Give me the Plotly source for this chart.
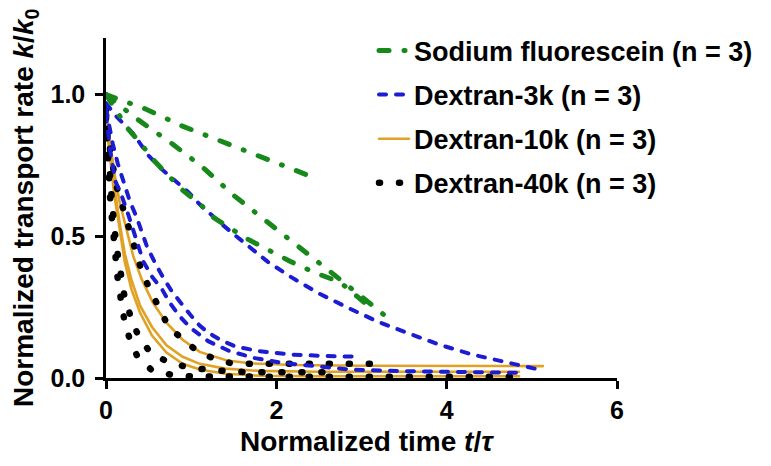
import plotly.graph_objects as go

# ---------------- data ----------------
# Sodium fluorescein (green, dash-dot)
sf1_x = [0, 0.46, 0.89, 1.34, 1.78, 2.22, 2.47]
sf1_y = [1.0, 0.95, 0.89, 0.837, 0.784, 0.73, 0.704]
sf2_x = [0, 0.36, 0.78, 1.13, 1.51, 1.89, 2.24, 2.63, 3.0, 3.38]
sf2_y = [1.0, 0.915, 0.826, 0.745, 0.642, 0.553, 0.472, 0.376, 0.287, 0.195]
sf3_x = [0, 0.26, 0.43, 0.58, 0.75, 0.91, 1.10, 1.26, 1.48, 1.67, 2.16, 2.45, 2.75, 2.92, 3.08]
sf3_y = [1.0, 0.879, 0.819, 0.762, 0.709, 0.66, 0.615, 0.567, 0.525, 0.489, 0.412, 0.372, 0.338, 0.294, 0.255]

# Dextran-3k (blue, dashed)
d3a_x = [0, 0.11, 0.32, 0.5, 0.65, 0.81, 0.97, 1.10, 1.2, 1.34, 1.49, 1.65, 1.9, 2.18, 2.49, 2.84, 3.19, 3.53, 3.92, 4.31, 4.74, 5.14]
d3a_y = [0.97, 0.927, 0.862, 0.785, 0.738, 0.696, 0.655, 0.613, 0.585, 0.548, 0.51, 0.47, 0.41, 0.355, 0.30, 0.248, 0.199, 0.16, 0.117, 0.082, 0.053, 0.026]
d3b_x = [0, 0.08, 0.14, 0.22, 0.28, 0.36, 0.42, 0.48, 0.575, 0.67, 0.775, 0.89, 0.99, 1.1, 1.2, 1.34, 1.53, 1.8, 2.16, 2.55, 2.97]
d3b_y = [0.95, 0.826, 0.755, 0.684, 0.624, 0.567, 0.518, 0.465, 0.407, 0.355, 0.305, 0.259, 0.223, 0.185, 0.16, 0.135, 0.11, 0.095, 0.083, 0.078, 0.075]
d3c_x = [0, 0.05, 0.11, 0.19, 0.26, 0.32, 0.36, 0.44, 0.54, 0.66, 0.75, 0.87, 1.0, 1.2, 1.45, 1.75, 2.08, 2.47, 2.86, 3.5, 4.2, 4.9]
d3c_y = [0.93, 0.80, 0.695, 0.638, 0.578, 0.518, 0.479, 0.41, 0.358, 0.312, 0.265, 0.216, 0.175, 0.13, 0.095, 0.07, 0.053, 0.04, 0.03, 0.024, 0.02, 0.018]

# Dextran-10k (orange, solid)
d10a_x = [0, 0.05, 0.1, 0.16, 0.24, 0.32, 0.42, 0.55, 0.71, 0.9, 1.1, 1.42, 1.69, 2.2, 3.0, 4.0, 5.13]
d10a_y = [0.93, 0.82, 0.72, 0.62, 0.525, 0.43, 0.348, 0.266, 0.195, 0.135, 0.092, 0.062, 0.052, 0.046, 0.043, 0.042, 0.042]
d10b_x = [0, 0.05, 0.1, 0.164, 0.22, 0.3, 0.4, 0.54, 0.71, 0.9, 1.1, 1.4, 1.8, 2.5, 3.5, 4.85]
d10b_y = [0.92, 0.79, 0.67, 0.54, 0.44, 0.345, 0.255, 0.18, 0.115, 0.075, 0.05, 0.033, 0.025, 0.022, 0.022, 0.022]
d10c_x = [0, 0.05, 0.1, 0.164, 0.22, 0.3, 0.4, 0.54, 0.71, 0.9, 1.1, 1.4, 1.8, 2.5, 3.5, 4.85]
d10c_y = [0.9, 0.76, 0.64, 0.52, 0.41, 0.312, 0.23, 0.15, 0.09, 0.05, 0.03, 0.015, 0.008, 0.006, 0.006, 0.006]

# Dextran-40k (black, dotted)
d40a_x = [0, 0.01, 0.025, 0.047, 0.067, 0.086, 0.106, 0.133, 0.172, 0.211, 0.274, 0.368, 0.536, 0.77, 0.99, 1.5, 2.5, 3.5, 4.86]
d40a_y = [0.92, 0.82, 0.71, 0.64, 0.572, 0.501, 0.424, 0.36, 0.283, 0.212, 0.141, 0.076, 0.028, 0.011, 0.006, 0.004, 0.004, 0.004, 0.004]
d40b_x = [0, 0.03, 0.07, 0.12, 0.172, 0.223, 0.30, 0.39, 0.536, 0.75, 1.0, 1.5, 2.0, 2.6]
d40b_y = [0.93, 0.78, 0.62, 0.47, 0.353, 0.277, 0.208, 0.141, 0.085, 0.054, 0.035, 0.022, 0.02, 0.02]
d40c_x = [0, 0.05, 0.12, 0.2, 0.28, 0.36, 0.419, 0.516, 0.614, 0.732, 0.907, 1.08, 1.3, 1.46, 1.7, 2.4, 3.12]
d40c_y = [0.95, 0.8, 0.68, 0.6, 0.53, 0.454, 0.377, 0.312, 0.247, 0.182, 0.135, 0.093, 0.064, 0.053, 0.05, 0.05, 0.05]

series_names = ["Sodium fluorescein (n = 3)", "Dextran-3k (n = 3)",
                "Dextran-10k (n = 3)", "Dextran-40k (n = 3)"]
x_ticks = [0, 2, 4, 6]
y_ticks = [0.0, 0.5, 1.0]
y_tick_labels = ["0.0", "0.5", "1.0"]

# ---------------- styles ----------------
FONT = "Arial, 'Liberation Sans', Helvetica, sans-serif"
GREEN = "#17891a"
BLUE = "#1c1cd2"
ORANGE = "#e0a224"
BLACK = "#000000"

fig = go.Figure()

def add_group(curves, name, color, width, dash, rank):
    for i, (xs, ys) in enumerate(curves):
        fig.add_trace(go.Scatter(
            x=xs, y=ys, mode="lines", name=name,
            line=dict(color=color, width=width, dash=dash),
            legendgroup=name, showlegend=(i == 0), legendrank=rank,
            hoverinfo="skip"))

# drawing order (bottom -> top): orange, black, blue, green
add_group([(d10a_x, d10a_y), (d10b_x, d10b_y), (d10c_x, d10c_y)],
          series_names[2], ORANGE, 2.6, "solid", 3)
add_group([(d40a_x, d40a_y), (d40b_x, d40b_y), (d40c_x, d40c_y)],
          series_names[3], BLACK, 6.5, "1px,19px", 4)
add_group([(d3a_x, d3a_y), (d3b_x, d3b_y), (d3c_x, d3c_y)],
          series_names[1], BLUE, 4, "7px,10px", 2)
add_group([(sf1_x, sf1_y), (sf2_x, sf2_y), (sf3_x, sf3_y)],
          series_names[0], GREEN, 5, "10px,15px,1px,15px", 1)

axis_common = dict(
    showline=True, linecolor="black", linewidth=2.5,
    ticks="outside", tickcolor="black", tickwidth=2.5, ticklen=8,
    showgrid=False, zeroline=False,
    tickfont=dict(family=FONT, size=25, color="black", weight="bold"),
)

fig.update_xaxes(range=[0, 6], tickvals=x_ticks, **axis_common)
fig.update_yaxes(range=[0, 1.2], tickvals=y_ticks, ticktext=y_tick_labels,
                 ticklabelstandoff=5, **axis_common)

fig.update_layout(
    width=771, height=466,
    margin=dict(l=106, r=154, t=38, b=88),
    paper_bgcolor="white", plot_bgcolor="white",
    font=dict(family=FONT, color="black"),
    showlegend=True,
    legend=dict(
        x=0.5245, y=1.034, xanchor="left", yanchor="top",
        bgcolor="rgba(0,0,0,0)", borderwidth=0,
        font=dict(family=FONT, size=27, color="black", weight="bold"),
        tracegroupgap=6, itemwidth=30,
    ),
    annotations=[
        dict(text="Normalized transport rate <i>k</i>/<i>k</i><sub>0</sub>",
             xref="paper", yref="paper", x=-0.1585, y=0.5,
             xanchor="center", yanchor="middle", textangle=-90, showarrow=False,
             font=dict(family=FONT, size=28, color="black", weight="bold")),
        dict(text="Normalized time <i>t</i>/<i>τ</i>",
             xref="paper", yref="paper", x=0.51, y=-0.188,
             xanchor="center", yanchor="middle", showarrow=False,
             font=dict(family=FONT, size=28, color="black", weight="bold")),
    ],
)

post = """
var gd = document.getElementById('{plot_id}');
function rc(){ gd.querySelectorAll('path.js-line').forEach(function(p){ p.style.strokeLinecap='round'; }); }
rc();
gd.on('plotly_afterplot', rc);
"""

fig.write_html("out.html", post_script=post)
